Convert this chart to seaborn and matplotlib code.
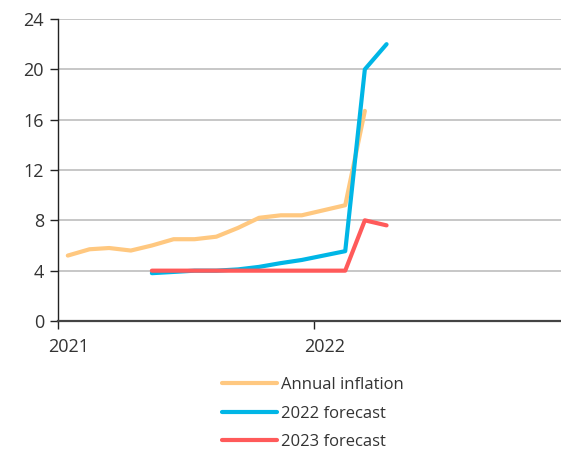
import matplotlib
matplotlib.use("Agg")
import matplotlib.pyplot as plt
import matplotlib.transforms as mtransforms
import seaborn as sns
import pandas as pd
import numpy as np

# Monthly observations, plotted mid-month (Jan 2021 - Apr 2022)
months = pd.date_range("2021-01-01", periods=16, freq="MS") + pd.Timedelta(days=14)

annual_inflation = [5.2, 5.7, 5.8, 5.6, 6.0, 6.5, 6.5, 6.7, 7.4, 8.2, 8.4, 8.4, 8.8, 9.2, 16.7, np.nan]
forecast_2022 = [np.nan, np.nan, np.nan, np.nan, 3.8, 3.9, 4.0, 4.0, 4.1, 4.3, 4.6, 4.85, 5.2, 5.55, 20.0, 22.0]
forecast_2023 = [np.nan, np.nan, np.nan, np.nan, 4.0, 4.0, 4.0, 4.0, 4.0, 4.0, 4.0, 4.0, 4.0, 4.0, 8.0, 7.6]

series_names = ["Annual inflation", "2022 forecast", "2023 forecast"]
series_colors = ["#FFC880", "#00B6E6", "#FF5A5A"]

y_ticks = [0, 4, 8, 12, 16, 20, 24]
x_tick_dates = ["2021-01-01", "2022-01-01"]
x_tick_labels = ["2021", "2022"]

df = pd.DataFrame({
    "date": list(months) * 3,
    "value": annual_inflation + forecast_2022 + forecast_2023,
    "series": np.repeat(series_names, len(months)),
})

sns.set_theme(style="white")
plt.rcParams["font.family"] = ["Open Sans", "DejaVu Sans"]
text_color = "#333333"

fig = plt.figure(figsize=(5.61, 4.5), dpi=100)
ax = fig.add_axes([58 / 561, 1 - 321 / 450, 503 / 561, 302 / 450])

sns.lineplot(data=df, x="date", y="value", hue="series", hue_order=series_names,
             palette=series_colors, linewidth=3, ax=ax, legend=True,
             estimator=None, sort=False)

ax.set_ylim(0, 24)
ax.set_yticks(y_ticks)
ax.set_xlim(pd.Timestamp("2021-01-01"), pd.Timestamp("2022-12-20"))
ax.set_xticks(pd.to_datetime(x_tick_dates))
ax.set_xticklabels(x_tick_labels)
ax.set_xlabel("")
ax.set_ylabel("")

# Horizontal gridlines only, behind the lines
ax.grid(axis="y", color="#BDBDBD", linewidth=1.2)
ax.grid(axis="x", visible=False)
ax.set_axisbelow(True)

for side in ["top", "right"]:
    ax.spines[side].set_visible(False)
ax.spines["left"].set_color("#222222")
ax.spines["left"].set_linewidth(1.0)
ax.spines["bottom"].set_color("#444444")
ax.spines["bottom"].set_linewidth(1.6)

ax.tick_params(axis="y", direction="out", length=6, width=1, color="#222222",
               labelsize=13, labelcolor=text_color, pad=4, left=True)
ax.tick_params(axis="x", direction="out", length=6, width=1, color="#222222",
               labelsize=13, labelcolor=text_color, pad=6, bottom=True)

# Year labels sit slightly to the right of their ticks
offset = mtransforms.ScaledTranslation(11 / 100, 0, fig.dpi_scale_trans)
for lbl in ax.get_xticklabels():
    lbl.set_transform(lbl.get_transform() + offset)

handles, labels = ax.get_legend_handles_labels()
ax.get_legend().remove()
leg = fig.legend(handles, labels, loc="upper left",
                 bbox_to_anchor=(222 / 561, 1 - 377 / 450),
                 frameon=False, fontsize=12, handlelength=3.3,
                 handletextpad=0.25, labelspacing=0.75,
                 borderpad=0, borderaxespad=0)
for t in leg.get_texts():
    t.set_color(text_color)
for h in leg.get_lines():
    h.set_linewidth(3)

fig.savefig("out.png", dpi=100)
